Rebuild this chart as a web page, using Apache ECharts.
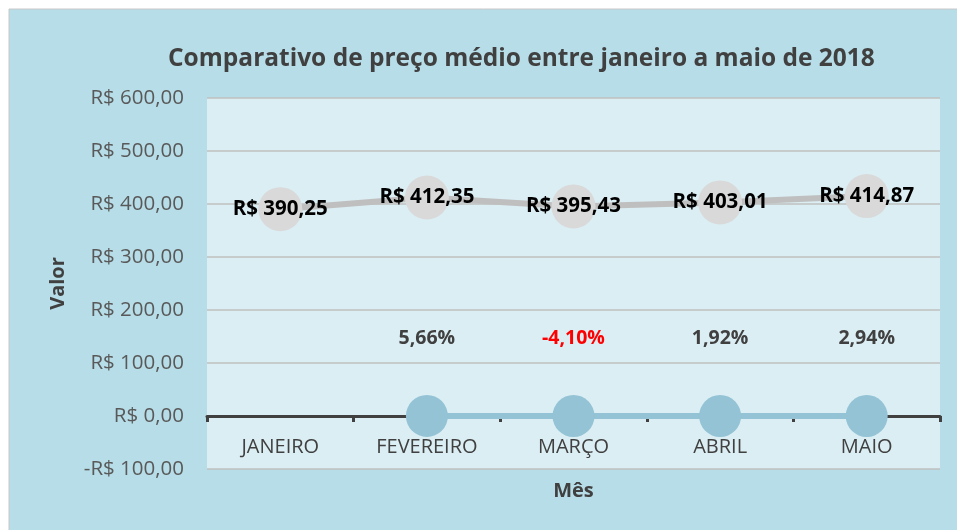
<!DOCTYPE html>
<html>
<head>
<meta charset="utf-8">
<script src="https://cdn.jsdelivr.net/npm/echarts@6/dist/echarts.min.js"></script>
<style>
  html, body { margin: 0; padding: 0; background: #fff; }
  #chart { width: 957px; height: 530px; }
</style>
</head>
<body>
<div id="chart"></div>
<script>
// meses e valores
var meses = ['JANEIRO', 'FEVEREIRO', 'MARÇO', 'ABRIL', 'MAIO']
var precoMedio = [390.25, 412.35, 395.43, 403.01, 414.87]
// variação percentual em relação ao mês anterior
var variacao = [null, 5.66, -4.10, 1.92, 2.94]
var yTicks = [-100, 0, 100, 200, 300, 400, 500, 600]

var fonte = 'Open Sans'

function brl(v) {
  var s = Math.abs(v).toFixed(2).replace('.', ',')
  return (v < 0 ? '-' : '') + 'R$ ' + s
}

var chart = echarts.init(document.getElementById('chart'))
chart.setOption({
  backgroundColor: '#fff',
  animation: false,
  graphic: [{
    type: 'rect',
    z: -10,
    shape: { x: 9, y: 9, width: 960, height: 530 },
    style: { fill: '#b7dde8', stroke: '#c8c8c8', lineWidth: 1 }
  }],
  title: {
    text: 'Comparativo de preço médio entre janeiro a maio de 2018',
    left: 163,
    top: 42,
    textStyle: { fontFamily: fonte, fontSize: 24.5, fontWeight: 'bold', color: '#404040' }
  },
  grid: {
    left: 207, top: 98, right: 17, bottom: 61,
    outerBoundsMode: 'none',
    containLabel: false,
    show: true, backgroundColor: '#dbeef4', borderWidth: 0
  },
  xAxis: {
    type: 'category',
    data: meses,
    name: 'Mês',
    nameLocation: 'middle',
    nameGap: 12,
    nameTextStyle: { fontFamily: fonte, fontSize: 20, fontWeight: 'bold', color: '#404040' },
    axisLine: { onZero: true, lineStyle: { color: '#404040', width: 3 } },
    axisTick: { show: true, length: 6, lineStyle: { color: '#404040', width: 3 } },
    // os rótulos ficam logo abaixo da linha do zero
    axisLabel: { margin: -32, fontFamily: fonte, fontSize: 20, color: '#404040' }
  },
  yAxis: {
    type: 'value',
    min: yTicks[0],
    max: yTicks[yTicks.length - 1],
    interval: 100,
    name: 'Valor',
    nameLocation: 'middle',
    nameGap: 139,
    nameTextStyle: { fontFamily: fonte, fontSize: 20, fontWeight: 'bold', color: '#404040' },
    axisLine: { show: false },
    axisTick: { show: false },
    splitLine: { lineStyle: { color: '#bfbfbf', width: 1.5 } },
    axisLabel: { margin: 23, fontFamily: fonte, fontSize: 20.5, color: '#595959', formatter: brl }
  },
  series: [
    {
      name: 'Preço médio',
      type: 'line',
      data: precoMedio,
      symbol: 'circle',
      symbolSize: 44,
      itemStyle: { color: '#d9d9d9' },
      lineStyle: { color: '#bfbfbf', width: 6 },
      label: {
        show: true,
        position: 'inside',
        fontFamily: fonte,
        fontSize: 20.5,
        fontWeight: 'bold',
        color: '#000',
        formatter: function (p) { return brl(p.value) }
      },
      z: 3
    },
    {
      name: 'Variação',
      type: 'line',
      // percentual como fração, fica praticamente sobre o zero
      data: variacao.map(function (v) {
        if (v === null) return null
        var item = { value: v / 100 }
        if (v < 0) item.label = { color: '#ff0000' }
        return item
      }),
      symbol: 'circle',
      symbolSize: 42,
      itemStyle: { color: '#93c3d5' },
      lineStyle: { color: '#93c3d5', width: 6 },
      label: {
        show: true,
        position: 'top',
        distance: 47,
        fontFamily: fonte,
        fontSize: 19.5,
        fontWeight: 'bold',
        formatter: function (p) {
          return variacao[p.dataIndex].toFixed(2).replace('.', ',') + '%'
        },
        color: '#404040'
      },
      z: 4
    }
  ]
})
</script>
</body>
</html>
